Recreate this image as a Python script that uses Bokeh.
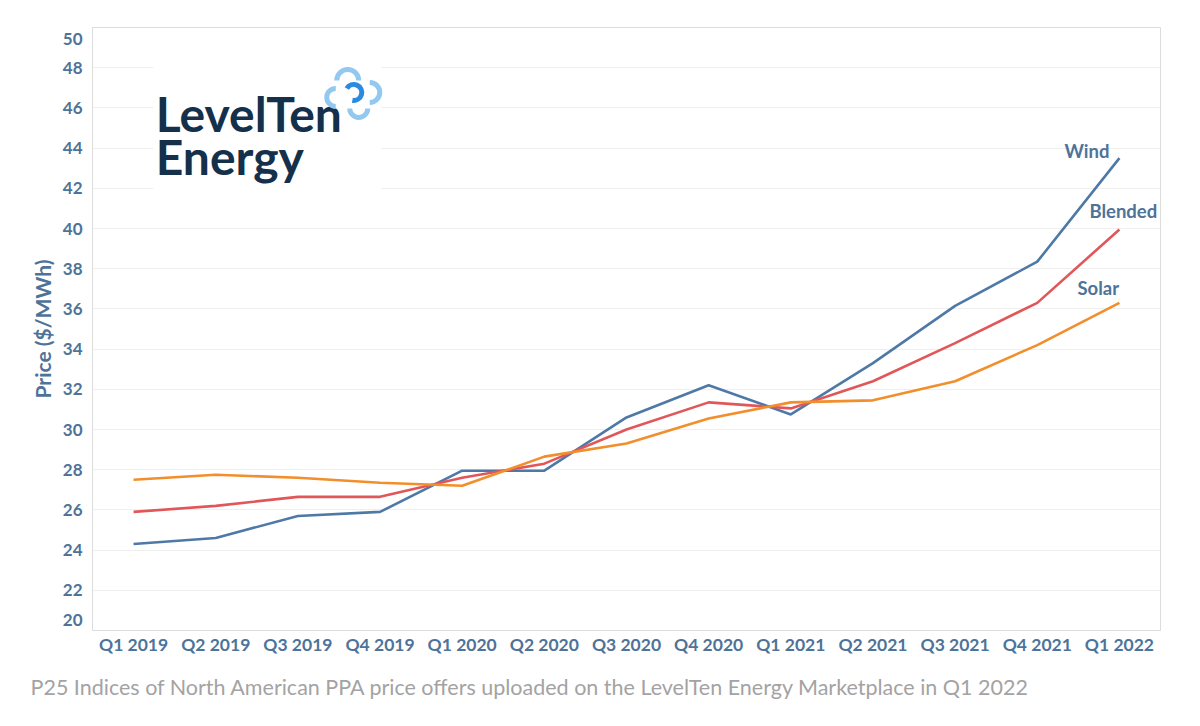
from bokeh.plotting import figure
from bokeh.models import FactorRange, Range1d, FixedTicker, Label, Title
from bokeh.core.properties import value
from bokeh.embed import file_html
from bokeh.resources import INLINE

quarters = ["Q1 2019", "Q2 2019", "Q3 2019", "Q4 2019",
            "Q1 2020", "Q2 2020", "Q3 2020", "Q4 2020",
            "Q1 2021", "Q2 2021", "Q3 2021", "Q4 2021", "Q1 2022"]
wind = [24.3, 24.6, 25.7, 25.9, 27.95, 27.95, 30.6, 32.2, 30.75, 33.3, 36.15, 38.35, 43.5]
blended = [25.9, 26.2, 26.65, 26.65, 27.6, 28.3, 30.0, 31.35, 31.05, 32.4, 34.3, 36.3, 39.95]
solar = [27.5, 27.75, 27.6, 27.35, 27.2, 28.65, 29.3, 30.55, 31.35, 31.45, 32.4, 34.2, 36.3]
grid_ticks = list(range(20, 51, 2))
# edge labels sit slightly inside the frame, as in the original
label_ticks = [20.5] + list(range(22, 49, 2)) + [49.45]
label_overrides = {20.5: "20", 49.45: "50"}
caption = "P25 Indices of North American PPA price offers uploaded on the LevelTen Energy Marketplace in Q1 2022"

AXIS_COLOR = "#4e7399"
FONT = "Lato"

p = figure(width=1192, height=718, x_range=FactorRange(factors=quarters),
           y_range=Range1d(20, 50), output_backend="svg", toolbar_location=None,
           min_border_left=92, min_border_right=32, min_border_top=27, min_border_bottom=88)
p.background_fill_color = "white"
p.border_fill_color = "white"
p.outline_line_color = "#dcdcdc"

p.xgrid.grid_line_color = None
p.ygrid.ticker = FixedTicker(ticks=grid_ticks)
p.ygrid.grid_line_color = "#efefef"
p.ygrid.grid_line_width = 1

p.yaxis.ticker = FixedTicker(ticks=label_ticks)
p.yaxis.major_label_overrides = label_overrides
p.yaxis.axis_line_color = None
p.yaxis.major_tick_line_color = None
p.yaxis.minor_tick_line_color = None
p.yaxis.major_tick_out = 0
p.yaxis.major_tick_in = 0
p.yaxis.major_label_standoff = 10
p.yaxis.major_label_text_font = FONT
p.yaxis.major_label_text_font_style = "bold"
p.yaxis.major_label_text_font_size = "17px"
p.yaxis.major_label_text_color = AXIS_COLOR
p.yaxis.axis_label = "Price ($/MWh)"
p.yaxis.axis_label_text_font = FONT
p.yaxis.axis_label_text_font_style = "bold"
p.yaxis.axis_label_text_font_size = "21px"
p.yaxis.axis_label_text_color = AXIS_COLOR
p.yaxis.axis_label_standoff = 5

p.xaxis.axis_line_color = None
p.xaxis.major_tick_line_color = None
p.xaxis.minor_tick_line_color = None
p.xaxis.major_tick_out = 0
p.xaxis.major_tick_in = 0
p.xaxis.major_label_standoff = 3
p.xaxis.major_label_text_font = FONT
p.xaxis.major_label_text_font_style = "bold"
p.xaxis.major_label_text_font_size = "17.5px"
p.xaxis.major_label_text_color = AXIS_COLOR

# logo backdrop
p.quad(left=[0.74], right=[3.52], bottom=[41.75], top=[49.2], fill_color="white", line_color=None)
p.text(x=[0.77, 0.77], y=[45.7, 43.56], text=["LevelTen", "Energy"],
       text_font=value(FONT), text_font_style="bold", text_font_size="48px",
       text_color="#14304b", text_baseline="alphabetic", text_align="left")
# icon
cx0, cy0 = 3.18, 46.62
px = 1 / 82.15
py = 1 / 20.1
blobs = [(-6, 15, 11, 0, 180), (16, 3, 10, -90, 90), (5, -13, 9, 180, 360), (-18, -2, 9, 90, 270)]
for dx, dy, r, a0, a1 in blobs:
    p.arc(x=[cx0 + dx * px], y=[cy0 + dy * py], radius=r, radius_units="screen",
          start_angle=a0, end_angle=a1, start_angle_units="deg", end_angle_units="deg",
          direction="anticlock", line_color="#93c8f0", line_width=5)
p.arc(x=[cx0], y=[cy0 + 3 * py], radius=8, radius_units="screen",
      start_angle=-100, end_angle=150, start_angle_units="deg", end_angle_units="deg",
      direction="anticlock", line_color="#2a8ae0", line_width=5)

p.line(quarters, wind, line_color="#4e79a7", line_width=2.6)
p.line(quarters, blended, line_color="#e15759", line_width=2.6)
p.line(quarters, solar, line_color="#f28e2b", line_width=2.6)

last_x = len(quarters) - 0.5
for name, series, xo, yo in [("Wind", wind, -55, 7), ("Blended", blended, -30, 19), ("Solar", solar, -42, 15)]:
    p.add_layout(Label(x=last_x, y=series[-1], x_offset=xo, y_offset=yo, text=name,
                       text_align="left", text_baseline="middle",
                       text_font=FONT, text_font_style="bold", text_font_size="18.5px",
                       text_color=AXIS_COLOR))

p.add_layout(Title(text=caption, align="left", offset=-62, standoff=29,
                   text_font=FONT, text_font_style="normal", text_font_size="21.5px",
                   text_color="#a3a3a3"), "below")

open("out.html", "w").write(file_html(p, INLINE))
